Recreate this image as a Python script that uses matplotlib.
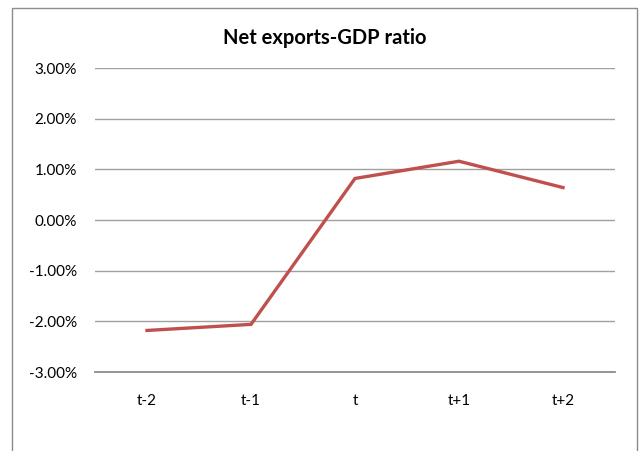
import matplotlib.pyplot as plt
from matplotlib.patches import Rectangle
from matplotlib.ticker import FuncFormatter

periods = ["t-2", "t-1", "t", "t+1", "t+2"]
net_exports_ratio = [-2.18, -2.06, 0.82, 1.16, 0.64]  # percent
y_ticks = [-3, -2, -1, 0, 1, 2, 3]

plt.rcParams['font.family'] = ['Lato', 'DejaVu Sans']

fig = plt.figure(figsize=(6.4, 4.51), dpi=100)
fig.patch.set_facecolor('white')

# chart frame (bottom edge is cut off in the original)
fig.patches.append(Rectangle((11.5 / 640, -0.05), (637 - 11.5) / 640, 1.05 - 8 / 451,
                             transform=fig.transFigure, fill=False,
                             edgecolor='#8c8c8c', linewidth=1.0))

ax = fig.add_axes([95 / 640, 1 - 372 / 451, (615 - 95) / 640, (372 - 68) / 451])
x = range(len(periods))
ax.plot(x, net_exports_ratio, color='#C0504D', linewidth=2.4,
        solid_joinstyle='miter', zorder=3)

ax.set_xlim(-0.5, len(periods) - 0.5)
ax.set_ylim(-3, 3)
ax.set_yticks(y_ticks)
ax.yaxis.set_major_formatter(FuncFormatter(lambda v, p: f"{v:.2f}%"))
ax.set_xticks(list(x))
ax.set_xticklabels(periods)

ax.grid(axis='y', color='#a0a0a0', linewidth=1.0)
ax.set_axisbelow(True)
for s in ['top', 'right', 'left']:
    ax.spines[s].set_visible(False)
ax.spines['bottom'].set_color('#8c8c8c')
ax.spines['bottom'].set_linewidth(1.3)
ax.tick_params(axis='both', length=0, labelsize=11, colors='black')
ax.tick_params(axis='y', pad=13)
ax.tick_params(axis='x', pad=16)

fig.text(0.507, 1 - 38 / 451, "Net exports-GDP ratio", ha='center', va='center',
         fontsize=14.5, fontweight='bold')

fig.savefig('out.png', dpi=100)
